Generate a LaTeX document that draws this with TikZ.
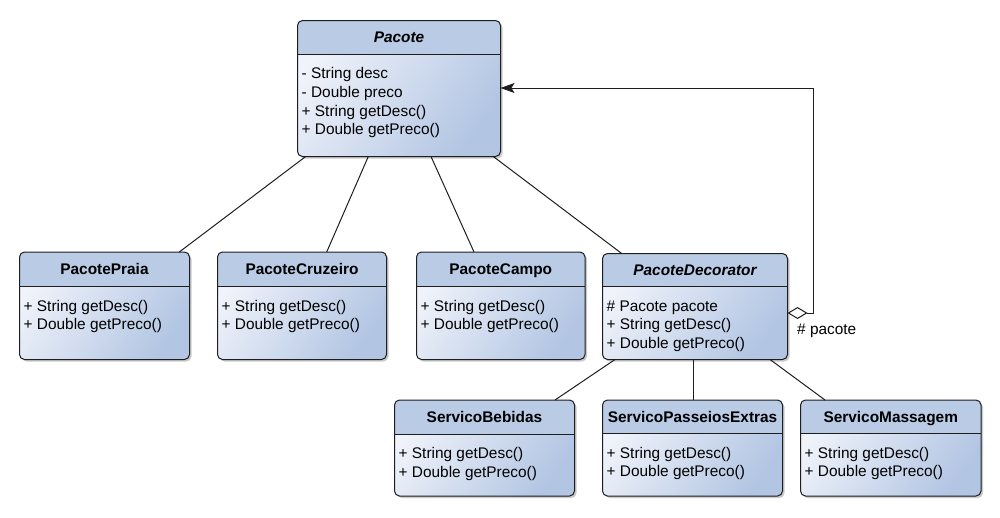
\documentclass[tikz,border=0pt]{standalone}
\usepackage{fontspec}
\setmainfont{Liberation Sans}
\usetikzlibrary{arrows.meta,calc,shadows}
\definecolor{hdrcol}{RGB}{185,203,229}
\definecolor{bodyA}{RGB}{240,243,250}
\definecolor{bodyB}{RGB}{178,197,227}
\definecolor{linecol}{RGB}{30,30,30}
\tikzset{
  classbox/.style={rectangle, rounded corners=5pt, inner sep=0pt, outer sep=0pt,
    top color=bodyA, bottom color=bodyB, shading angle=55,
    drop shadow={shadow xshift=2pt, shadow yshift=-2pt, opacity=0.35, fill=black!60}},
  classline/.style={draw=linecol, line width=1pt},
  titletext/.style={anchor=base, inner sep=0pt, font=\fontsize{15.4}{18.7}\selectfont\bfseries},
  bodytext/.style={anchor=base west, inner sep=0pt, font=\fontsize{15.4}{18.7}\selectfont},
  conn/.style={draw=linecol, line width=1pt},
}
\newcommand\umlclass[8]{%
  \node[classbox, minimum width={(#4-#2)*1pt}, minimum height={(#5-#3)*1pt}] (#1) at ({(#2+#4)/2},{(#3+#5)/2}) {};
  \begin{scope}
    \clip[rounded corners=5pt] (#1.north west) rectangle (#1.south east);
    \fill[hdrcol] (#1.north west) rectangle (#4,#6);
  \end{scope}
  \draw[classline, rounded corners=5pt] (#1.north west) rectangle (#1.south east);
  \draw[classline] (#2,#6) -- (#4,#6);
  \node[titletext] (#1-title) at ({(#2+#4)/2},{(#3+#6)/2+5.5}) {#7};
  \foreach \t [count=\i] in {#8} {\node[bodytext] (#1-line\i) at ({#2+4},{#6+24.5+(\i-1)*18.7}) {\t};}
}
\begin{document}
\begin{tikzpicture}[x=1pt,y=-1pt]
\useasboundingbox (0,0) rectangle (1000,517);
\umlclass{pacote}{297.5}{20.5}{500.5}{156.5}{54.3}{\itshape Pacote}{- String desc,- Double preco,+ String getDesc(),+ Double getPreco()}
\umlclass{praia}{19.5}{252}{189.5}{359.5}{286.5}{PacotePraia}{+ String getDesc(),+ Double getPreco()}
\umlclass{cruzeiro}{217.5}{252}{386.5}{359.5}{286.5}{PacoteCruzeiro}{+ String getDesc(),+ Double getPreco()}
\umlclass{campo}{416.5}{252}{585}{359.5}{286.5}{PacoteCampo}{+ String getDesc(),+ Double getPreco()}
\umlclass{decor}{602.5}{253.5}{787.5}{359.5}{286.5}{\itshape PacoteDecorator}{\# Pacote pacote,+ String getDesc(),+ Double getPreco()}
\umlclass{bebidas}{394.5}{400}{574.5}{496}{434}{ServicoBebidas}{+ String getDesc(),+ Double getPreco()}
\umlclass{passeios}{602.5}{400}{782.5}{496}{433.5}{ServicoPasseiosExtras}{+ String getDesc(),+ Double getPreco()}
\umlclass{massagem}{800.5}{400}{981}{496}{433.5}{ServicoMassagem}{+ String getDesc(),+ Double getPreco()}
% inheritance lines
\draw[conn] ($(pacote.south west)+(8.2,0)$) -- ($(praia.north west)+(159.8,0)$);
\draw[conn] ($(pacote.south west)+(70.8,0)$) -- ($(cruzeiro.north west)+(109.2,0)$);
\draw[conn] ($(pacote.south west)+(133.5,0)$) -- ($(campo.north west)+(57.5,0)$);
\draw[conn] ($(pacote.south west)+(195.8,0)$) -- ($(decor.north west)+(19.2,0)$);
\draw[conn] ($(decor.south west)+(12.5,0)$) -- ($(bebidas.north west)+(160.5,0)$);
\draw[conn] ($(decor.south west)+(90.5,0)$) -- ($(passeios.north west)+(90.5,0)$);
\draw[conn] ($(decor.south west)+(167.5,0)$) -- ($(massagem.north west)+(24.5,0)$);
% aggregation
\coordinate (aggstart) at ($(decor.north east)+(0,59.5)$);
\coordinate (k1) at (813,313);
\coordinate (k2) at (813,88);
\coordinate (aggend) at (pacote.east |- k2);
\draw[conn, {Diamond[open, length=20pt, width=12pt, line width=1pt, fill=white]}-{Stealth[length=14pt, width=10pt, inset=3pt]}]
  (aggstart) -- (k1) -- (k2) -- (aggend);
\node[bodytext] (agglabel) at (797,334) {\# pacote};
\end{tikzpicture}
\end{document}
